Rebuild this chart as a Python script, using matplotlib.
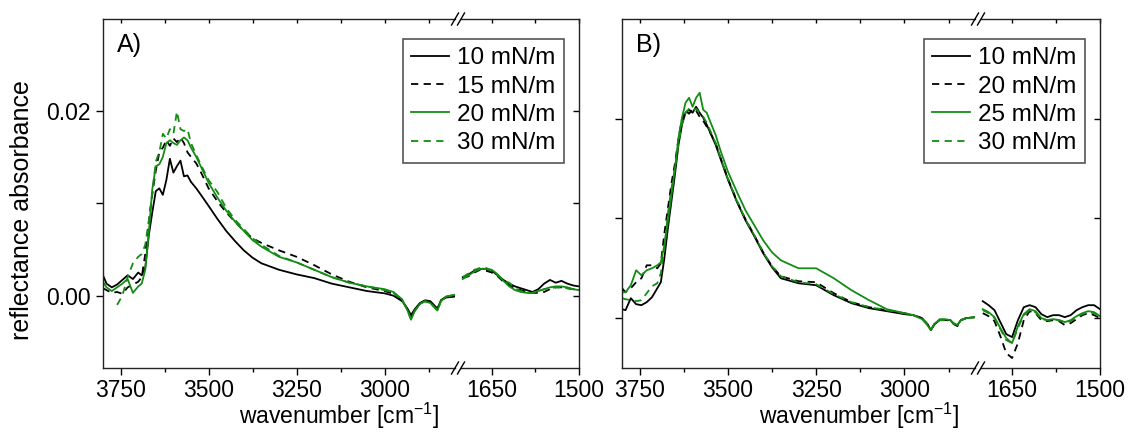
import numpy as np
import matplotlib
matplotlib.use("Agg")
import matplotlib.pyplot as plt
from matplotlib.lines import Line2D
from matplotlib.ticker import FixedLocator, NullFormatter

plt.rcParams['font.family'] = ['Liberation Sans', 'DejaVu Sans']
plt.rcParams['mathtext.fontset'] = 'custom'
plt.rcParams['mathtext.rm'] = 'Liberation Sans'
plt.rcParams['mathtext.it'] = 'Liberation Sans'

# wavenumber grids for the two pieces of the broken x axis
wn_high = [3800, 3790, 3775, 3760, 3745, 3730, 3715, 3700, 3690, 3680, 3670, 3660, 3650,
           3640, 3630, 3620, 3610, 3600, 3590, 3580, 3570, 3560, 3550, 3535, 3520, 3500,
           3475, 3450, 3425, 3400, 3375, 3350, 3300, 3250, 3200, 3150, 3100, 3050, 3000,
           2975, 2950, 2935, 2925, 2915, 2900, 2885, 2870, 2860, 2850, 2840, 2825, 2800]
wn_low = [1700, 1690, 1680, 1670, 1660, 1650, 1640, 1630, 1620, 1610, 1600, 1590, 1580,
          1570, 1560, 1550, 1540, 1530, 1520, 1510, 1500]

# panel A (values in 1e-3)
labels_a = ['10 mN/m', '15 mN/m', '20 mN/m', '30 mN/m']
a10_high = [2.2, 1.3, 0.9, 1.2, 1.7, 2.2, 1.8, 2.5, 2.2, 3.0, 6.5, 9.0, 11.3, 11.6, 10.9, 12.5,
            14.8, 13.3, 14.0, 14.6, 12.9, 13.0, 12.3, 11.6, 10.8, 9.7, 8.3, 7.0, 5.9, 4.9, 4.1,
            3.5, 2.8, 2.3, 1.9, 1.3, 0.9, 0.5, 0.25, 0.0, -0.6, -1.4, -2.1, -1.5, -0.8, -0.5,
            -0.6, -1.0, -1.4, -0.5, -0.2, -0.1]
a15_high = [0.8, 0.6, 0.3, 0.4, 0.2, 0.9, 1.2, 1.5, 2.0, 4.5, 8.0, 11.0, 13.5, 15.5, 16.0, 16.8,
            16.2, 17.0, 16.6, 17.1, 16.5, 15.5, 15.0, 14.3, 13.2, 11.6, 10.2, 9.0, 8.0, 7.0,
            6.2, 5.7, 4.9, 4.2, 3.3, 2.3, 1.5, 0.9, 0.5, 0.2, -0.5, -1.5, -2.4, -1.6, -0.9,
            -0.6, -0.7, -1.1, -1.5, -0.5, -0.1, 0.0]
a20_high = [1.5, 0.9, 0.5, 0.9, 1.3, 1.8, 0.3, 1.0, 1.3, 2.8, 6.8, 11.5, 14.0, 14.2, 15.0, 16.5,
            16.8, 16.5, 16.3, 16.8, 17.1, 16.8, 16.0, 15.0, 13.8, 12.2, 10.6, 9.2, 8.0, 7.0,
            6.0, 5.3, 4.2, 3.6, 2.8, 2.0, 1.4, 1.0, 0.7, 0.4, -0.4, -1.6, -2.6, -1.7, -0.9,
            -0.6, -0.8, -1.2, -1.6, -0.6, -0.1, 0.1]
a30_high = [np.nan, np.nan, np.nan, -1.0, 0.0, 2.0, 3.5, 4.2, 4.5, 5.5, 8.0, 11.0, 14.5, 15.5,
            17.5, 17.0, 18.0, 17.5, 19.9, 18.0, 17.8, 18.0, 16.5, 15.2, 14.0, 12.5, 11.2, 9.5,
            8.2, 7.2, 6.2, 5.5, 4.3, 3.6, 2.8, 2.0, 1.4, 1.0, 0.6, 0.3, -0.5, -1.6, -2.5, -1.7,
            -0.9, -0.6, -0.8, -1.2, -1.6, -0.6, -0.1, 0.1]
a10_low = [2.0, 2.3, 2.7, 2.9, 2.9, 2.7, 2.2, 1.7, 1.3, 1.0, 0.8, 0.6, 0.4, 0.7, 1.3, 1.7, 1.4,
           1.6, 1.3, 1.1, 1.0]
a15_low = [1.9, 2.1, 2.5, 2.8, 2.7, 2.5, 2.1, 1.5, 1.1, 0.8, 0.6, 0.4, 0.3, 0.3, 0.4, 0.7, 0.9,
           0.9, 0.8, 0.7, 0.6]
a20_low = [1.8, 2.2, 2.6, 2.9, 2.9, 2.8, 2.3, 1.6, 1.0, 0.6, 0.4, 0.3, 0.3, 0.5, 0.7, 0.9, 1.0,
           1.0, 0.9, 0.7, 0.6]
a30_low = [2.0, 2.4, 2.8, 3.0, 3.0, 2.7, 2.2, 1.6, 1.4, 0.8, 0.5, 0.3, 0.3, 0.5, 0.7, 0.8, 0.9,
           0.9, 0.8, 0.7, 0.6]

# panel B (values in 1e-3)
labels_b = ['10 mN/m', '20 mN/m', '25 mN/m', '30 mN/m']
b10_high = [0.9, 0.8, 2.0, 1.4, 1.3, 1.6, 2.1, 3.0, 3.6, 6.0, 9.0, 11.7, 14.4, 17.4, 19.4, 20.6,
            20.9, 20.6, 21.2, 20.6, 20.1, 19.4, 18.6, 17.4, 15.9, 13.9, 11.7, 9.8, 8.2, 6.5,
            5.1, 4.0, 3.5, 3.3, 2.3, 1.5, 1.0, 0.7, 0.4, 0.3, 0.0, -0.6, -1.2, -0.6, -0.2,
            -0.2, -0.2, -0.6, -0.7, -0.2, 0.0, 0.1]
b20_high = [3.0, 2.6, 3.0, 3.6, 4.0, 5.3, 5.3, 5.0, 5.5, 8.5, 11.0, 13.5, 15.5, 18.0, 20.0, 20.8,
            20.5, 21.0, 20.8, 20.2, 19.8, 19.2, 18.6, 17.6, 16.0, 14.0, 11.8, 9.9, 8.3, 6.6,
            5.2, 4.2, 3.7, 3.6, 2.5, 1.6, 1.1, 0.8, 0.5, 0.3, 0.0, -0.6, -1.2, -0.6, -0.2,
            -0.2, -0.2, -0.6, -0.8, -0.2, 0.0, 0.1]
b25_high = [2.6, 2.6, 3.3, 4.8, 4.3, 4.8, 5.0, 5.3, 5.6, 7.3, 9.7, 12.3, 15.0, 18.1, 20.1, 21.6,
            22.1, 21.2, 22.1, 22.6, 20.9, 20.6, 19.7, 18.4, 16.7, 14.7, 12.7, 10.8, 9.3, 7.8,
            6.6, 5.8, 5.0, 5.0, 4.0, 2.8, 1.8, 0.9, 0.5, 0.3, -0.1, -0.7, -1.2, -0.6, -0.1,
            -0.1, -0.2, -0.5, -0.7, -0.2, 0.0, 0.1]
b30_high = [2.0, 1.9, 1.8, 1.7, 1.8, 2.5, 3.2, 3.5, 4.5, 7.0, 10.5, 13.0, 15.0, 17.5, 19.5, 20.6,
            21.0, 20.8, 21.0, 20.6, 20.2, 19.6, 18.8, 17.6, 16.0, 14.0, 11.8, 9.9, 8.3, 6.6,
            5.2, 4.2, 3.6, 3.4, 2.4, 1.6, 1.1, 0.8, 0.5, 0.3, 0.0, -0.6, -1.2, -0.6, -0.2,
            -0.2, -0.2, -0.6, -0.7, -0.2, 0.0, 0.1]
b10_low = [1.7, 1.3, 0.8, -0.4, -1.6, -1.9, -0.2, 1.1, 1.3, 1.1, 0.4, 0.1, 0.3, 0.3, 0.1, 0.3,
           0.8, 1.1, 1.3, 1.3, 0.9]
b20_low = [0.5, 0.2, -0.3, -1.8, -3.5, -4.0, -2.5, -0.2, 0.7, 0.5, -0.2, -0.3, -0.2, -0.3, -0.7,
           -0.5, -0.1, 0.3, 0.5, 0.3, 0.0]
b25_low = [0.9, 0.6, 0.1, -1.0, -2.0, -2.5, -0.8, 0.4, 0.9, 0.7, 0.0, -0.2, -0.1, -0.2, -0.4,
           -0.2, 0.2, 0.5, 0.7, 0.6, 0.2]
b30_low = [0.8, 0.5, 0.0, -1.1, -2.2, -2.5, -1.0, 0.3, 0.8, 0.6, -0.1, -0.2, -0.1, -0.2, -0.4,
           -0.3, 0.1, 0.4, 0.6, 0.5, 0.1]

W, H = 1129, 432
GREEN = '#148c14'
TICK_FS = 16.5
styles = [dict(color='black', ls='-'), dict(color='black', ls=(0, (4, 3))),
          dict(color=GREEN, ls='-'), dict(color=GREEN, ls=(0, (4, 3)))]

fig = plt.figure(figsize=(W / 100, H / 100), dpi=100)


def px_axes(x0, x1, y0=19, y1=368):
    # axes from pixel coordinates (top-left origin)
    return fig.add_axes([x0 / W, 1 - y1 / H, (x1 - x0) / W, (y1 - y0) / H])


def slash(xc, yc):
    fig.add_artist(Line2D([(xc - 3.5) / W, (xc + 3.5) / W],
                          [1 - (yc + 6) / H, 1 - (yc - 6) / H],
                          color='black', lw=1.0))


def style_xaxis(ax, major, minor):
    ax.set_xticks(major)
    ax.xaxis.set_minor_locator(FixedLocator(minor))
    ax.tick_params(axis='x', which='both', direction='out', labelsize=TICK_FS, pad=3)
    ax.tick_params(axis='x', which='major', length=5, width=1)
    ax.tick_params(axis='x', which='minor', length=3, width=1)
    # mirrored ticks on the top spine, pointing inside
    sec = ax.secondary_xaxis('top')
    sec.set_xticks(major)
    sec.xaxis.set_minor_locator(FixedLocator(minor))
    sec.tick_params(which='both', direction='in', labeltop=False, length=3, width=1)
    sec.spines['top'].set_visible(False)


def make_panel(x0, xbreak, x1, high, low, labels, ylim, yticks, ylabels, tag):
    ax1 = px_axes(x0, xbreak - 3)
    ax2 = px_axes(xbreak + 3, x1)
    lines = []
    for yh, yl, st, lab in zip(high, low, styles, labels):
        l, = ax1.plot(wn_high, np.array(yh) * 1e-3, lw=1.3, label=lab, **st)
        ax2.plot(wn_low, np.array(yl) * 1e-3, lw=1.3, **st)
        lines.append(l)
    ax1.set_xlim(3800, 2800)
    ax2.set_xlim(1703, 1500)
    for ax in (ax1, ax2):
        ax.set_ylim(*ylim)
        for s in ax.spines.values():
            s.set_linewidth(1.0)
            s.set_color('#222222')
    ax1.spines['right'].set_visible(False)
    ax2.spines['left'].set_visible(False)
    style_xaxis(ax1, [3750, 3500, 3250, 3000], [3625, 3375, 3125, 2875])
    style_xaxis(ax2, [1650, 1500], [1575])

    ax1.set_yticks(yticks)
    ax1.tick_params(axis='y', direction='out', length=5, width=1, labelsize=TICK_FS, pad=4)
    if ylabels:
        ax1.set_yticklabels(ylabels)
    else:
        ax1.yaxis.set_major_formatter(NullFormatter())
    ax2.yaxis.tick_right()
    ax2.set_yticks(yticks)
    ax2.yaxis.set_major_formatter(NullFormatter())
    ax2.tick_params(axis='y', direction='in', length=4, width=1)

    # break marks on top and bottom spines
    for yc in (19, 368):
        slash(xbreak - 3, yc)
        slash(xbreak + 3, yc)

    fig.text((x0 + 14) / W, 1 - 45 / H, tag, fontsize=18, va='center', ha='left')
    fig.text(((x0 + x1) / 2 - 2) / W, 1 - 431 / H, 'wavenumber [cm$^{-1}$]',
             fontsize=16.5, ha='center', va='bottom')
    leg = fig.legend(handles=lines, loc='upper right',
                     bbox_to_anchor=((x1 - 15) / W, 1 - 39 / H),
                     bbox_transform=fig.transFigure, borderaxespad=0,
                     fontsize=17.5, handlelength=1.56, handletextpad=0.33,
                     labelspacing=0.26, borderpad=0.34, fancybox=False, framealpha=1)
    leg.get_frame().set_edgecolor('#555555')
    leg.get_frame().set_linewidth(1.2)
    return ax1, ax2


make_panel(103, 458, 579,
           [a10_high, a15_high, a20_high, a30_high],
           [a10_low, a15_low, a20_low, a30_low],
           labels_a, (-0.00782, 0.02991), [0.0, 0.01, 0.02], ['0.00', '', '0.02'], 'A)')
make_panel(622, 978, 1100,
           [b10_high, b20_high, b25_high, b30_high],
           [b10_low, b20_low, b25_low, b30_low],
           labels_b, (-0.0050, 0.0300), [0.0, 0.01, 0.02], None, 'B)')

fig.text(22 / W, 1 - 210 / H, 'reflectance absorbance', rotation=90, fontsize=18,
         ha='center', va='center')

fig.savefig('out.png', dpi=100)
